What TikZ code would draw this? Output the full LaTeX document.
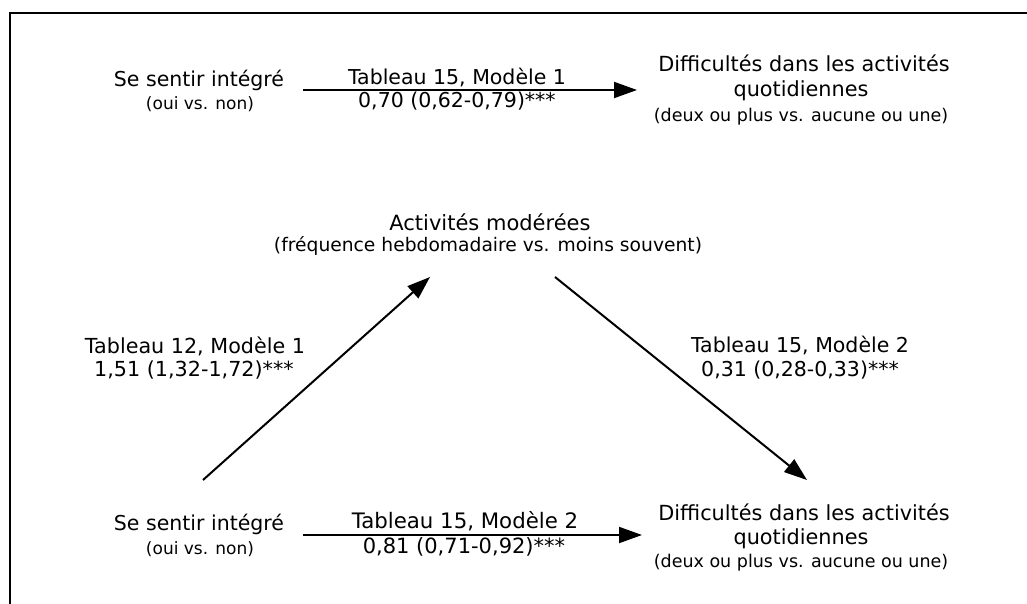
\documentclass[tikz,border=0pt]{standalone}
\usepackage{fontspec}
\setmainfont{DejaVu Sans}
\usetikzlibrary{arrows.meta}
\tikzset{
  mainln/.style={anchor=base,inner sep=0pt,font=\fontsize{20.5}{24}\selectfont},
  subln/.style={anchor=base,inner sep=0pt,font=\fontsize{17}{21}\selectfont},
  conn/.style={line width=2pt,-{Triangle[length=23pt,width=16pt]}},
  frame/.style={line width=2pt}
}
\begin{document}
\begin{tikzpicture}[x=1pt,y=-1pt]
\useasboundingbox (0,0) rectangle (1027,604);
\draw[frame] (1040,13) -- (10,13) -- (10,620);
% top-left
\node[mainln] (tl1) at (199,87) {Se sentir intégré};
\node[subln] (tl2) at (200,110) {(oui vs. non)};
% top label
\node[mainln] (lt1) at (457,85) {Tableau 15, Modèle 1};
\node[mainln] (lt2) at (457,108) {0,70 (0,62-0,79)***};
% top-right
\node[mainln,font=\fontsize{20.8}{24}\selectfont] (tr1) at (804,72) {Difficultés dans les activités};
\node[mainln,font=\fontsize{20.8}{24}\selectfont] (tr2) at (801,97) {quotidiennes};
\node[subln,font=\fontsize{17.5}{21}\selectfont] (tr3) at (801,122) {(deux ou plus vs. aucune ou une)};
% middle
\node[mainln,font=\fontsize{21}{24}\selectfont] (md1) at (490,230) {Activités modérées};
\node[subln,font=\fontsize{18.7}{22}\selectfont] (md2) at (488,251) {(fréquence hebdomadaire vs. moins souvent)};
% left label
\node[mainln,font=\fontsize{20.7}{24}\selectfont] (ll1) at (195,353) {Tableau 12, Modèle 1};
\node[mainln,font=\fontsize{20.7}{24}\selectfont] (ll2) at (194,376) {1,51 (1,32-1,72)***};
% right label
\node[mainln] (rl1) at (800,352) {Tableau 15, Modèle 2};
\node[mainln] (rl2) at (800,376) {0,31 (0,28-0,33)***};
% bottom-left
\node[mainln] (bl1) at (199,530) {Se sentir intégré};
\node[subln] (bl2) at (200,554) {(oui vs. non)};
% bottom label
\node[mainln,font=\fontsize{21.3}{24}\selectfont] (lb1) at (465,528) {Tableau 15, Modèle 2};
\node[mainln,font=\fontsize{21}{24}\selectfont] (lb2) at (464,553) {0,81 (0,71-0,92)***};
% bottom-right
\node[mainln,font=\fontsize{20.8}{24}\selectfont] (br1) at (804,520) {Difficultés dans les activités};
\node[mainln,font=\fontsize{20.8}{24}\selectfont] (br2) at (801,544) {quotidiennes};
\node[subln,font=\fontsize{17.5}{21}\selectfont] (br3) at (801,567) {(deux ou plus vs. aucune ou une)};
% arrow end points
\coordinate (a1s) at (303,90);
\coordinate (a1e) at (637,90);
\coordinate (a2s) at (203,480);
\coordinate (a2e) at (430,277);
\coordinate (a3s) at (555,277);
\coordinate (a3e) at (807,480);
\coordinate (a4s) at (303,535);
\coordinate (a4e) at (642,535);
\draw[conn] (a1s) -- (a1e);
\draw[conn] (a2s) -- (a2e);
\draw[conn] (a3s) -- (a3e);
\draw[conn] (a4s) -- (a4e);
\end{tikzpicture}
\end{document}
